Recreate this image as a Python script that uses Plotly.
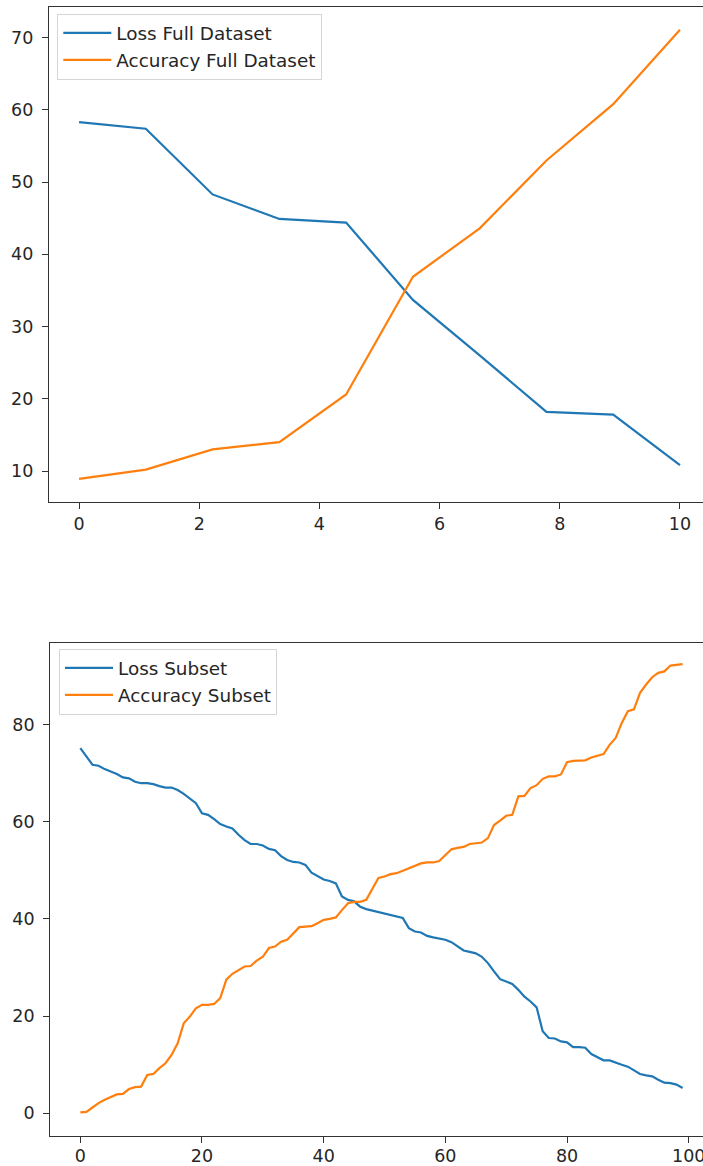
import plotly.graph_objects as go

# ---- data ----
full_x = [0, 1.111, 2.222, 3.333, 4.444, 5.556, 6.667, 7.778, 8.889, 10]
loss_full = [58.3, 57.4, 48.3, 44.9, 44.4, 33.7, 26.0, 18.2, 17.8, 10.8]
acc_full = [8.9, 10.2, 13.0, 14.0, 20.6, 36.9, 43.6, 53.0, 60.8, 71.1]

subset_x = list(range(100))
loss_subset = [
    75.1, 73.4, 71.7, 71.5, 70.8, 70.3, 69.8, 69.1, 68.9, 68.2,
    67.9, 67.9, 67.7, 67.3, 67.0, 67.0, 66.5, 65.7, 64.8, 63.8,
    61.7, 61.4, 60.5, 59.5, 59.0, 58.6, 57.3, 56.2, 55.4, 55.4,
    55.1, 54.4, 54.1, 52.9, 52.1, 51.7, 51.6, 51.1, 49.5, 48.8,
    48.1, 47.8, 47.3, 44.6, 43.9, 43.6, 42.5, 42.0, 41.7, 41.4,
    41.2, 40.9, 40.5, 40.2, 38.1, 37.4, 37.2, 36.5, 36.2, 36.0,
    35.7, 35.2, 34.4, 33.5, 33.2, 32.9, 32.2, 30.9, 29.2, 27.6,
    27.1, 26.6, 25.4, 24.0, 23.0, 21.8, 16.9, 15.5, 15.4, 14.8,
    14.6, 13.6, 13.6, 13.5, 12.2, 11.5, 10.9, 10.9, 10.4, 10.0,
    9.6, 8.8, 8.1, 7.8, 7.6, 6.9, 6.3, 6.2, 5.9, 5.2,
]
acc_subset = [
    0.2, 0.3, 1.2, 2.1, 2.8, 3.4, 3.9, 4.0, 5.0, 5.4,
    5.5, 7.9, 8.1, 9.3, 10.3, 12.0, 14.4, 18.5, 19.9, 21.6,
    22.3, 22.3, 22.5, 23.7, 27.5, 28.7, 29.5, 30.2, 30.3, 31.4,
    32.2, 34.0, 34.3, 35.3, 35.7, 37.0, 38.3, 38.4, 38.5, 39.1,
    39.8, 40.0, 40.3, 41.8, 43.2, 43.5, 43.5, 43.9, 46.3, 48.4,
    48.7, 49.2, 49.4, 49.9, 50.4, 50.9, 51.4, 51.6, 51.6, 51.9,
    53.2, 54.3, 54.6, 54.8, 55.4, 55.5, 55.7, 56.6, 59.3, 60.2,
    61.2, 61.4, 65.2, 65.3, 66.9, 67.5, 68.8, 69.3, 69.3, 69.7,
    72.2, 72.5, 72.5, 72.6, 73.2, 73.6, 73.9, 75.8, 77.2, 80.3,
    82.7, 83.1, 86.5, 88.2, 89.7, 90.6, 90.9, 92.1, 92.3, 92.4,
]

top_xticks = [0, 2, 4, 6, 8, 10]
top_yticks = [10, 20, 30, 40, 50, 60, 70]
bot_xticks = [0, 20, 40, 60, 80, 100]
bot_yticks = [0, 20, 40, 60, 80]

BLUE = "#1f77b4"
ORANGE = "#ff7f0e"
W, H = 703, 1166
FONT = "DejaVu Sans"

fig = go.Figure()
fig.add_trace(go.Scatter(x=full_x, y=loss_full, mode="lines", name="Loss Full Dataset",
                         line=dict(color=BLUE, width=2.2), xaxis="x", yaxis="y", legend="legend"))
fig.add_trace(go.Scatter(x=full_x, y=acc_full, mode="lines", name="Accuracy Full Dataset",
                         line=dict(color=ORANGE, width=2.2), xaxis="x", yaxis="y", legend="legend"))
fig.add_trace(go.Scatter(x=subset_x, y=loss_subset, mode="lines", name="Loss Subset",
                         line=dict(color=BLUE, width=2.2), xaxis="x2", yaxis="y2", legend="legend2"))
fig.add_trace(go.Scatter(x=subset_x, y=acc_subset, mode="lines", name="Accuracy Subset",
                         line=dict(color=ORANGE, width=2.2), xaxis="x2", yaxis="y2", legend="legend2"))

axis_common = dict(showgrid=False, zeroline=False, showline=True, linecolor="#333333", linewidth=1.3,
                   ticks="outside", ticklen=6, tickwidth=1.3, tickcolor="#333333",
                   tickfont=dict(family=FONT, size=17.5, color="#262626"), automargin=False,
                   ticklabeloverflow="allow")

legend_common = dict(xanchor="left", yanchor="top",
                     bgcolor="rgba(255,255,255,0.8)", bordercolor="#d5d5d5", borderwidth=1,
                     font=dict(family=FONT, size=18.4, color="#262626"), itemwidth=48)

fig.update_layout(
    width=W, height=H,
    margin=dict(l=0, r=0, t=0, b=0),
    paper_bgcolor="white", plot_bgcolor="white",
    xaxis=dict(domain=[49 / W, 1], range=[-0.5, 10.383], tickvals=top_xticks, anchor="y",
               mirror=True, **axis_common),
    yaxis=dict(domain=[1 - 502 / H, 1 - 7.3 / H], range=[5.71, 74.21], tickvals=top_yticks, anchor="x",
               ticklabelstandoff=5, **axis_common),
    xaxis2=dict(domain=[50.2 / W, 1], range=[-4.95, 102.35], tickvals=bot_xticks, anchor="y2",
                mirror=True, ticklabelstandoff=-2, **axis_common),
    yaxis2=dict(domain=[1 - 1135.7 / H, 1 - 642.7 / H], range=[-4.6, 96.8], tickvals=bot_yticks, anchor="x2",
                ticklabelstandoff=5, **axis_common),
    legend=dict(x=57.3 / W, y=1 - 13.5 / H, **legend_common),
    legend2=dict(x=59 / W, y=1 - 648.5 / H, **legend_common),
    showlegend=True,
)

fig.write_html("out.html")
